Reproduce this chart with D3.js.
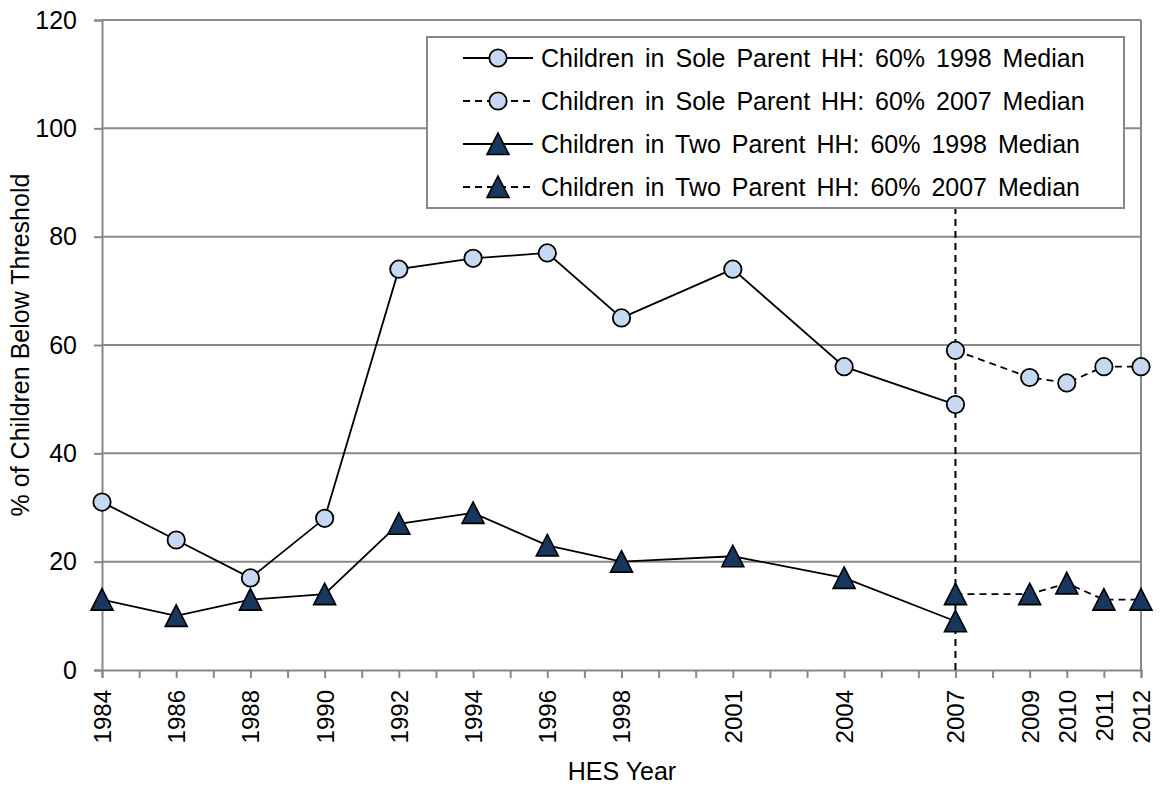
<!DOCTYPE html>
<html>
<head>
<meta charset="utf-8">
<script src="https://cdn.jsdelivr.net/npm/d3@7"></script>
<style>
  body { margin: 0; background: #fff; }
  text { font-family: "Liberation Sans", Arial, sans-serif; fill: #000; }
</style>
</head>
<body>
<div id="chart"></div>
<script>
// data
const yearsEarly = [1984, 1986, 1988, 1990, 1992, 1994, 1996, 1998, 2001, 2004, 2007]
const yearsLate = [2007, 2009, 2010, 2011, 2012]
const sole1998 = [31, 24, 17, 28, 74, 76, 77, 65, 74, 56, 49]
const sole2007 = [59, 54, 53, 56, 56]
const two1998 = [13, 10, 13, 14, 27, 29, 23, 20, 21, 17, 9]
const two2007 = [14, 14, 16, 13, 13]
const labelYears = [1984, 1986, 1988, 1990, 1992, 1994, 1996, 1998, 2001, 2004, 2007, 2009, 2010, 2011, 2012]
const yTicks = [0, 20, 40, 60, 80, 100, 120]
const breakYear = 2007
const breakTop = 100

const seriesNames = [
  "Children in Sole Parent HH: 60% 1998 Median",
  "Children in Sole Parent HH: 60% 2007 Median",
  "Children in Two Parent HH: 60% 1998 Median",
  "Children in Two Parent HH: 60% 2007 Median"
]

const W = 1165, H = 785
const MARGIN = { LEFT: 102, RIGHT: 24, TOP: 20, BOTTOM: 115 }
const WIDTH = W - MARGIN.LEFT - MARGIN.RIGHT
const HEIGHT = H - MARGIN.TOP - MARGIN.BOTTOM

const LIGHT = "#c6d9f1", DARK = "#17375e", GRID = "#888888"
const FONT = "Liberation Sans, Arial, sans-serif"

const svg = d3.select("#chart").append("svg")
  .attr("width", W).attr("height", H)

const g = svg.append("g")
  .attr("transform", `translate(${MARGIN.LEFT}, ${MARGIN.TOP})`)

const x = d3.scaleLinear().domain([1984, 2012]).range([0, WIDTH])
const y = d3.scaleLinear().domain([0, 120]).range([HEIGHT, 0])

// gridlines
g.append("g").selectAll("line")
  .data(yTicks.filter(d => d > 0))
  .join("line")
  .attr("x1", 0).attr("x2", WIDTH)
  .attr("y1", d => y(d)).attr("y2", d => y(d))
  .attr("stroke", GRID).attr("stroke-width", 2)

// right border
g.append("line")
  .attr("x1", WIDTH).attr("x2", WIDTH).attr("y1", 0).attr("y2", HEIGHT)
  .attr("stroke", GRID).attr("stroke-width", 2)

// y axis
const yAxis = g.append("g")
  .call(d3.axisLeft(y).tickValues(yTicks).tickSize(8).tickPadding(17))
yAxis.select(".domain").attr("stroke", GRID).attr("stroke-width", 2)
yAxis.selectAll(".tick line").attr("stroke", GRID).attr("stroke-width", 2)
yAxis.selectAll("text").attr("font-size", "25px").attr("fill", "#000")
  .attr("font-family", FONT)

// x axis, tick every year, labels only for survey years
const xAxis = g.append("g")
  .attr("transform", `translate(0, ${HEIGHT})`)
  .call(d3.axisBottom(x).tickValues(d3.range(1984, 2013)).tickSize(8)
    .tickFormat(d => labelYears.includes(d) ? String(d) : ""))
xAxis.select(".domain").attr("stroke", GRID).attr("stroke-width", 2)
xAxis.selectAll(".tick line").attr("stroke", GRID).attr("stroke-width", 2)
xAxis.selectAll("text")
  .attr("font-size", "24px").attr("fill", "#000")
  .attr("font-family", FONT)
  .attr("transform", "rotate(-90)")
  .attr("text-anchor", "end")
  .attr("x", -20).attr("y", 0).attr("dy", "0.35em")

// axis titles
g.append("text")
  .attr("x", 520).attr("y", HEIGHT + 110)
  .attr("text-anchor", "middle").attr("font-size", "25px")
  .text("HES Year")

g.append("text")
  .attr("transform", "rotate(-90)")
  .attr("x", -(HEIGHT / 2)).attr("y", -73)
  .attr("text-anchor", "middle").attr("font-size", "25px")
  .text("% of Children Below Threshold")

// break line
g.append("line")
  .attr("x1", x(breakYear)).attr("x2", x(breakYear))
  .attr("y1", y(0)).attr("y2", y(breakTop))
  .attr("stroke", "#000").attr("stroke-width", 2).attr("stroke-dasharray", "7,5")

const line = d3.line().x(d => x(d.year)).y(d => y(d.value))
const zip = (years, vals) => years.map((yr, i) => ({ year: yr, value: vals[i] }))

const series = [
  { data: zip(yearsEarly, sole1998), dash: null, shape: "circle" },
  { data: zip(yearsLate, sole2007), dash: "7,5", shape: "circle" },
  { data: zip(yearsEarly, two1998), dash: null, shape: "triangle" },
  { data: zip(yearsLate, two2007), dash: "7,5", shape: "triangle" }
]

function drawMarker(sel, shape) {
  if (shape === "circle") {
    sel.append("circle").attr("r", 8.7)
      .attr("fill", LIGHT).attr("stroke", "#000").attr("stroke-width", 1.8)
  } else {
    sel.append("path").attr("d", "M0,-11L11,10.5L-11,10.5Z")
      .attr("fill", DARK).attr("stroke", "#000").attr("stroke-width", 1.6)
      .attr("stroke-linejoin", "miter")
  }
}

series.forEach(s => {
  g.append("path").datum(s.data)
    .attr("d", line).attr("fill", "none")
    .attr("stroke", "#000").attr("stroke-width", 1.8)
    .attr("stroke-dasharray", s.dash)
})
series.forEach(s => {
  g.append("g").selectAll("g").data(s.data).join("g")
    .attr("transform", d => `translate(${x(d.year)}, ${y(d.value)})`)
    .each(function () { drawMarker(d3.select(this), s.shape) })
})

// legend
const legend = svg.append("g").attr("transform", "translate(427, 37)")
legend.append("rect")
  .attr("width", 697).attr("height", 171)
  .attr("fill", "#fff").attr("stroke", GRID).attr("stroke-width", 2)

seriesNames.forEach((name, i) => {
  const row = legend.append("g").attr("transform", `translate(0, ${21 + i * 43})`)
  row.append("line").attr("x1", 36).attr("x2", 106).attr("y1", 0).attr("y2", 0)
    .attr("stroke", "#000").attr("stroke-width", 1.8)
    .attr("stroke-dasharray", series[i].dash)
  const m = row.append("g").attr("transform", "translate(71, 0)")
  drawMarker(m, series[i].shape)
  row.append("text").attr("x", 114).attr("y", 0).attr("dy", "0.35em")
    .attr("font-size", "25px").attr("word-spacing", "4px")
    .text(name)
})
</script>
</body>
</html>
